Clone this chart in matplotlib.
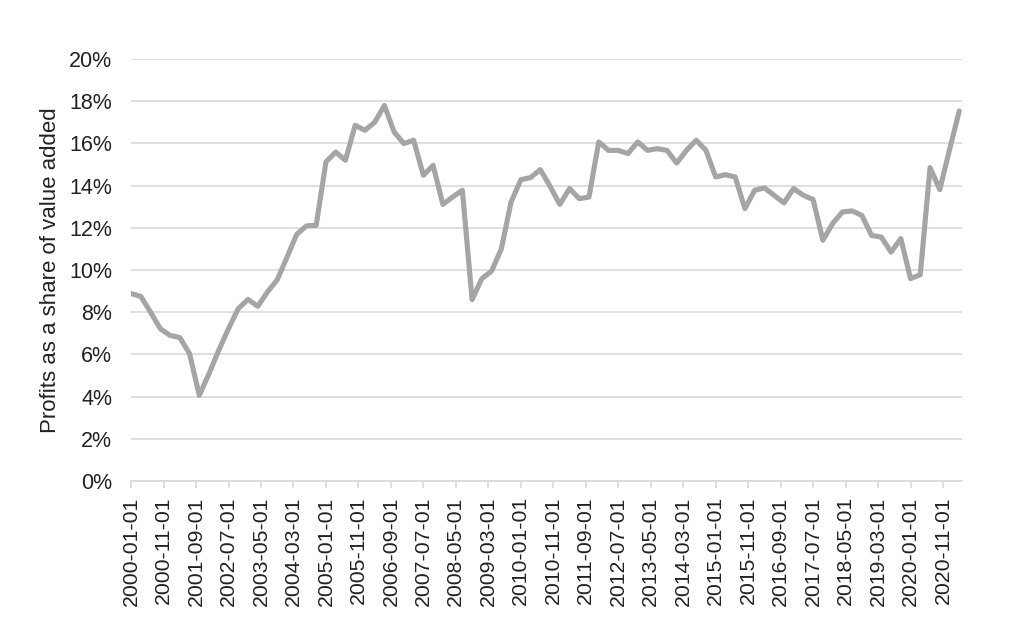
import matplotlib.pyplot as plt
import numpy as np

plt.rcParams['font.family'] = ['Liberation Sans', 'DejaVu Sans']

# quarterly profit share (%), 2000-01 .. 2021-04
profit_share = [
    8.88, 8.75, 8.0, 7.22,
    6.9, 6.8, 6.04, 4.06,
    5.09, 6.2, 7.22, 8.17,
    8.61, 8.28, 8.96, 9.54,
    10.6, 11.69, 12.09, 12.12,
    15.12, 15.59, 15.2, 16.86,
    16.62, 17.0, 17.8, 16.54,
    15.99, 16.15, 14.49, 14.96,
    13.11, 13.46, 13.78, 8.6,
    9.59, 9.95, 11.0, 13.22,
    14.28, 14.38, 14.76, 13.97,
    13.11, 13.86, 13.38, 13.46,
    16.07, 15.67, 15.67, 15.52,
    16.07, 15.67, 15.75, 15.67,
    15.07, 15.67, 16.15, 15.67,
    14.41, 14.52, 14.41, 12.91,
    13.78, 13.89, 13.54, 13.18,
    13.86, 13.54, 13.34, 11.41,
    12.2, 12.75, 12.8, 12.59,
    11.64, 11.56, 10.85, 11.49,
    9.59, 9.78, 14.85, 13.81,
    15.7, 17.54,
]
start_year = 2000
tick_step_months = 10

# months since 2000-01 for each quarter
months = np.arange(len(profit_share)) * 3
tick_months = np.arange(0, months[-1] + 1, tick_step_months)
tick_labels = [f"{start_year + m // 12}-{m % 12 + 1:02d}-01" for m in tick_months]

fig = plt.figure(figsize=(10.24, 6.4), dpi=100)
ax = fig.add_axes([0.128, 0.2484, 0.811, 0.6594])

ax.plot(months, np.array(profit_share) / 100, color='#a5a5a5', lw=3.7,
        solid_joinstyle='round', solid_capstyle='round', zorder=3)

ax.set_ylim(0, 0.20)
ax.set_yticks(np.arange(0, 0.201, 0.02))
ax.set_yticklabels([f"{int(round(v * 100))}%" for v in np.arange(0, 0.201, 0.02)])
ax.set_xlim(0, 255.7)
ax.set_xticks(tick_months)
ax.set_xticklabels(tick_labels, rotation=90)

ax.grid(axis='y', color='#d9d9d9', lw=1.2)
ax.set_axisbelow(True)
for s in ['top', 'right', 'left']:
    ax.spines[s].set_visible(False)
ax.spines['bottom'].set_color('#d9d9d9')
ax.spines['bottom'].set_linewidth(1.2)

ax.tick_params(axis='y', length=0, pad=13.5, labelsize=15.5, labelcolor='#222222')
ax.tick_params(axis='x', length=5, color='#d9d9d9', width=1.2, pad=6,
               labelsize=15.3, labelcolor='#222222')

ax.set_ylabel("Profits as a share of value added", fontsize=16, color='#222222', labelpad=6)

fig.savefig("out.png", dpi=100)
